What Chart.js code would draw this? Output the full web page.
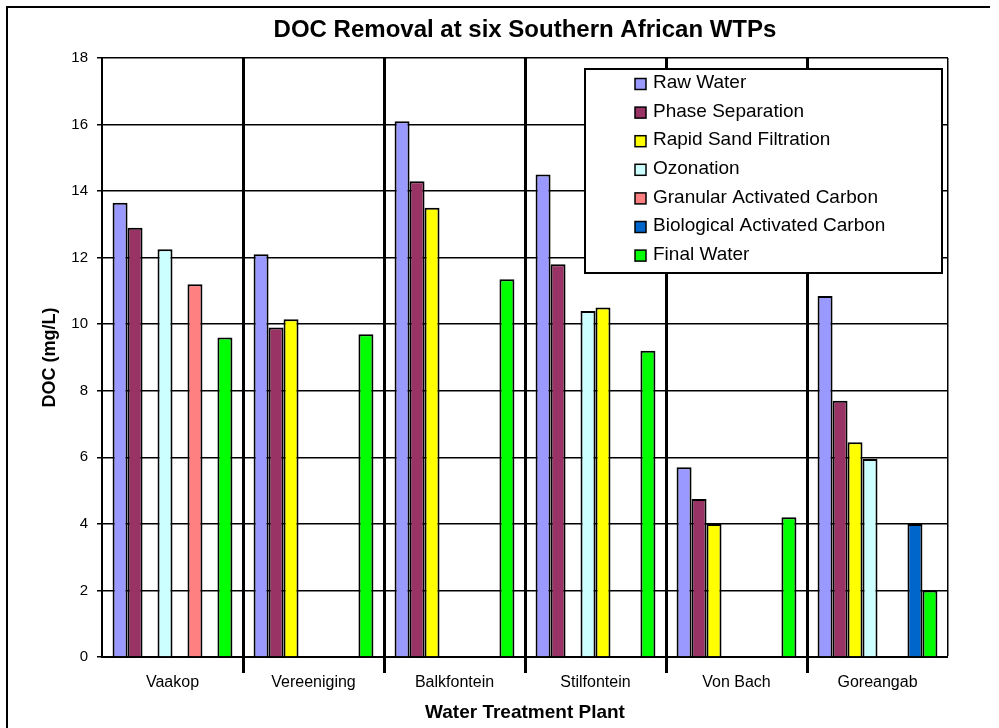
<!DOCTYPE html>
<html>
<head>
<meta charset="utf-8">
<title>DOC Removal at six Southern African WTPs</title>
<script src="https://cdn.jsdelivr.net/npm/chart.js@4.4.1/dist/chart.umd.min.js"></script>
<style>
  html, body { margin: 0; padding: 0; background: #fff; }
  #wrap { width: 999px; height: 728px; }
</style>
</head>
<body>
<div id="wrap"><canvas id="docChart" width="999" height="728"></canvas></div>
<script>
// Estações de tratamento (eixo x)
const plants = ['Vaakop', 'Vereeniging', 'Balkfontein', 'Stilfontein', 'Von Bach', 'Goreangab'];

const rawWater        = [13.65, 12.1, 16.1, 14.5, 5.7, 10.85];
const phaseSeparation = [12.9, 9.9, 14.3, 11.8, 4.75, 7.7];
const rapidSand       = [null, 10.15, 13.5, null, 4.0, 6.45];
const ozonation       = [12.25, null, null, 10.4, null, 5.95];
const sandAfterOzone  = [null, null, null, 10.5, null, null]; // segunda filtração (sem entrada na legenda)
const gac             = [11.2, null, null, null, null, null];
const bac             = [null, null, null, null, null, 4.0];
const finalWater      = [9.6, 9.7, 11.35, 9.2, 4.2, 2.0];

// Eixo y
const yMin = 0;
const yMax = 18;
const yStep = 2;

const fontFamily = '"Liberation Sans", Arial, sans-serif';

// Legenda com moldura, dentro da área do gráfico
const boxLegend = {
    id: 'boxLegend',
    afterDraw(chart) {
        const ctx = chart.ctx;
        const area = chart.chartArea;
        const items = chart.data.datasets.filter(ds => !ds.hideInLegend);
        const x = area.right - 363;
        const y = area.top + 11;
        const w = 357;
        const h = 204;

        ctx.save();
        ctx.fillStyle = '#fff';
        ctx.fillRect(x, y, w, h);
        ctx.lineWidth = 2;
        ctx.strokeStyle = '#000';
        ctx.strokeRect(x, y, w, h);

        ctx.font = `19px ${fontFamily}`;
        ctx.textBaseline = 'middle';
        items.forEach((ds, i) => {
            const cy = y + 15 + i * 28.6;
            ctx.fillStyle = ds.backgroundColor;
            ctx.fillRect(x + 50, cy - 5.5, 11, 11);
            ctx.lineWidth = 1.5;
            ctx.strokeRect(x + 50, cy - 5.5, 11, 11);
            ctx.fillStyle = '#000';
            ctx.fillText(ds.label, x + 68, cy - 1);
        });
        ctx.restore();
    }
};

// Fundo branco e moldura externa
const outerFrame = {
    id: 'outerFrame',
    beforeDraw(chart) {
        const ctx = chart.ctx;
        ctx.save();
        ctx.fillStyle = '#fff';
        ctx.fillRect(0, 0, chart.width, chart.height);
        ctx.strokeStyle = '#000';
        ctx.lineWidth = 2;
        ctx.beginPath();
        ctx.moveTo(7, chart.height);
        ctx.lineTo(7, 7);
        ctx.lineTo(990, 7);
        ctx.stroke();
        ctx.restore();
    }
};

function isEdge(c) {
    return c.type !== 'tick' || c.index === 0;
}

const ctx = document.getElementById('docChart').getContext('2d');

new Chart(ctx, {
    type: 'bar',
    data: {
        labels: plants,
        datasets: [
            { label: 'Raw Water', data: rawWater, backgroundColor: '#9999FF' },
            { label: 'Phase Separation', data: phaseSeparation, backgroundColor: '#993366' },
            { label: 'Rapid Sand Filtration', data: rapidSand, backgroundColor: '#FFFF00' },
            { label: 'Ozonation', data: ozonation, backgroundColor: '#CCFFFF' },
            { label: 'Rapid Sand Filtration', data: sandAfterOzone, backgroundColor: '#FFFF00', hideInLegend: true },
            { label: 'Granular Activated Carbon', data: gac, backgroundColor: '#FF8080' },
            { label: 'Biological Activated Carbon', data: bac, backgroundColor: '#0066CC' },
            { label: 'Final Water', data: finalWater, backgroundColor: '#00FF00' }
        ]
    },
    options: {
        responsive: false,
        animation: false,
        devicePixelRatio: 1,
        datasets: {
            bar: {
                borderColor: '#000',
                borderWidth: 2,
                categoryPercentage: 0.85,
                barPercentage: 1.0
            }
        },
        layout: {
            padding: { top: 5, left: 8, right: 51, bottom: 0 }
        },
        plugins: {
            legend: { display: false },
            tooltip: { enabled: false },
            title: {
                display: true,
                fullSize: false,
                text: 'DOC Removal at six Southern African WTPs',
                color: '#000',
                font: { size: 24, weight: 'bold', family: fontFamily },
                padding: { top: 11, bottom: 13.2 }
            }
        },
        scales: {
            x: {
                grid: {
                    offset: true,
                    color: '#000',
                    lineWidth: c => (c.type !== 'tick' ? 1.5 : (c.index === 0 ? 0 : 3)),
                    tickColor: c => (isEdge(c) ? 'rgba(0,0,0,0)' : '#000'),
                    tickWidth: 3,
                    tickLength: 16
                },
                border: { color: '#000', width: 2 },
                ticks: {
                    color: '#000',
                    font: { size: 16, family: fontFamily },
                    padding: 0,
                    maxRotation: 0
                },
                title: {
                    display: true,
                    text: 'Water Treatment Plant',
                    color: '#000',
                    font: { size: 19, weight: 'bold', family: fontFamily },
                    padding: { top: 0, bottom: 4 }
                },
                afterFit: scale => { scale.height = 71; }
            },
            y: {
                min: yMin,
                max: yMax,
                ticks: {
                    stepSize: yStep,
                    color: '#000',
                    font: { size: 15, family: fontFamily },
                    padding: 9
                },
                grid: { color: '#000', lineWidth: 1.5, tickLength: 5 },
                border: { color: '#000', width: 2 },
                title: {
                    display: true,
                    text: 'DOC (mg/L)',
                    color: '#000',
                    font: { size: 18, weight: 'bold', family: fontFamily },
                    padding: { top: 31, bottom: 0 }
                },
                afterFit: scale => { scale.width = 94; }
            }
        }
    },
    plugins: [outerFrame, boxLegend]
});
</script>
</body>
</html>
